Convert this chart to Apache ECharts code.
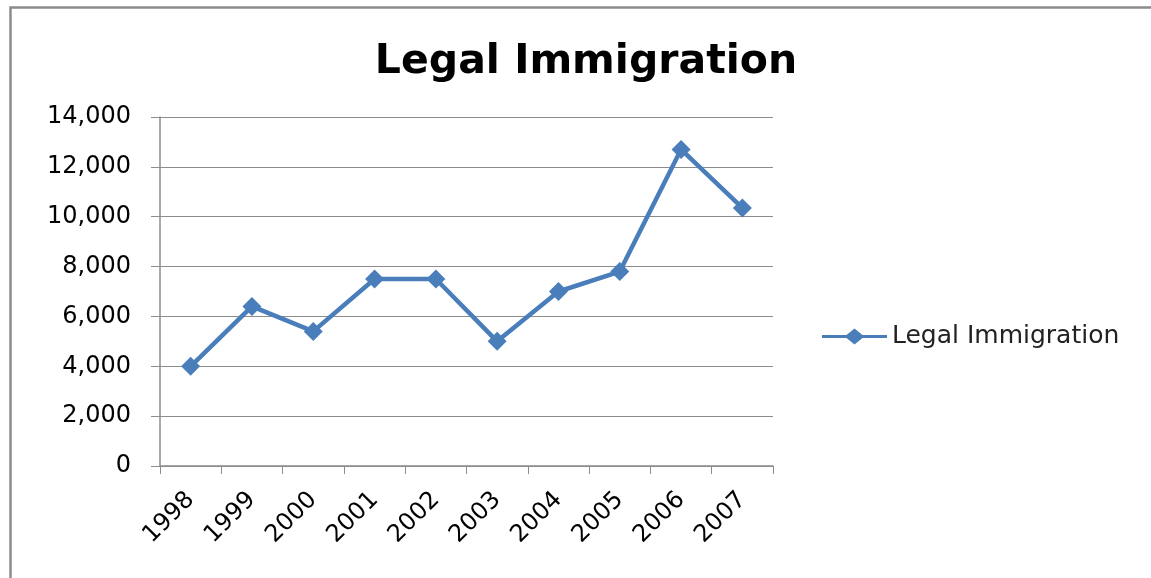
<!DOCTYPE html>
<html>
<head>
<meta charset="utf-8">
<script src="https://cdn.jsdelivr.net/npm/echarts@6/dist/echarts.min.js"></script>
<style>html,body{margin:0;padding:0;background:#fff;}#c{width:1151px;height:578px;}</style>
</head>
<body>
<div id="c"></div>
<script>
const titleText = "Legal Immigration";
const seriesName = "Legal Immigration";
const years = ["1998","1999","2000","2001","2002","2003","2004","2005","2006","2007"];
const values = [4000, 6400, 5400, 7500, 7500, 5000, 7000, 7800, 12700, 10350];
const yTicks = [0, 2000, 4000, 6000, 8000, 10000, 12000, 14000];

const chart = echarts.init(document.getElementById('c'), null, {renderer: 'canvas'});
const font = "'DejaVu Sans', sans-serif";
const legendIcon = 'path://M0,6.5 L24.5,6.5 L32.5,0 L40.5,6.5 L65,6.5 L65,9.5 L40.5,9.5 L32.5,16 L24.5,9.5 L0,9.5 Z';
chart.setOption({
  animation: false,
  backgroundColor: '#fff',
  graphic: [{
    type: 'rect', left: 8, top: 5,
    shape: {width: 1200, height: 600},
    style: {fill: 'none', stroke: '#8c8c8c', lineWidth: 2.5}
  }],
  title: {
    text: titleText, left: 581, top: 37, textAlign: 'center',
    textStyle: {fontFamily: font, fontWeight: 'bold', fontSize: 41, color: '#000'}
  },
  legend: {
    data: [{name: seriesName, icon: legendIcon}],
    left: 817, top: 319, itemWidth: 65, itemHeight: 16, itemGap: 6,
    itemStyle: {color: '#4a7ebb'},
    textStyle: {fontFamily: font, fontSize: 25, color: '#222'}
  },
  grid: {left: 160, right: 378, top: 117, bottom: 112, containLabel: false},
  xAxis: {
    type: 'category', data: years, boundaryGap: true,
    axisLine: {lineStyle: {color: '#8c8c8c', width: 1.5}},
    axisTick: {show: true, inside: false, length: 8, alignWithLabel: false, lineStyle: {color: '#8c8c8c'}},
    axisLabel: {rotate: 45, fontFamily: font, fontSize: 24, color: '#000', margin: 30, interval: 0}
  },
  yAxis: {
    type: 'value', min: 0, max: 14000, interval: 2000,
    axisLine: {show: true, lineStyle: {color: '#8c8c8c', width: 1.5}},
    axisTick: {show: true, length: 9, lineStyle: {color: '#8c8c8c'}},
    splitLine: {lineStyle: {color: '#8c8c8c', width: 1.2}},
    axisLabel: {
      fontFamily: font, fontSize: 24, color: '#000', margin: 29,
      formatter: v => yTicks.includes(v) ? v.toLocaleString('en-US') : ''
    }
  },
  series: [{
    name: seriesName, type: 'line', data: values,
    symbol: 'diamond', symbolSize: 19,
    lineStyle: {color: '#4a7ebb', width: 4.5},
    itemStyle: {color: '#4a7ebb'}
  }]
});
</script>
</body>
</html>
